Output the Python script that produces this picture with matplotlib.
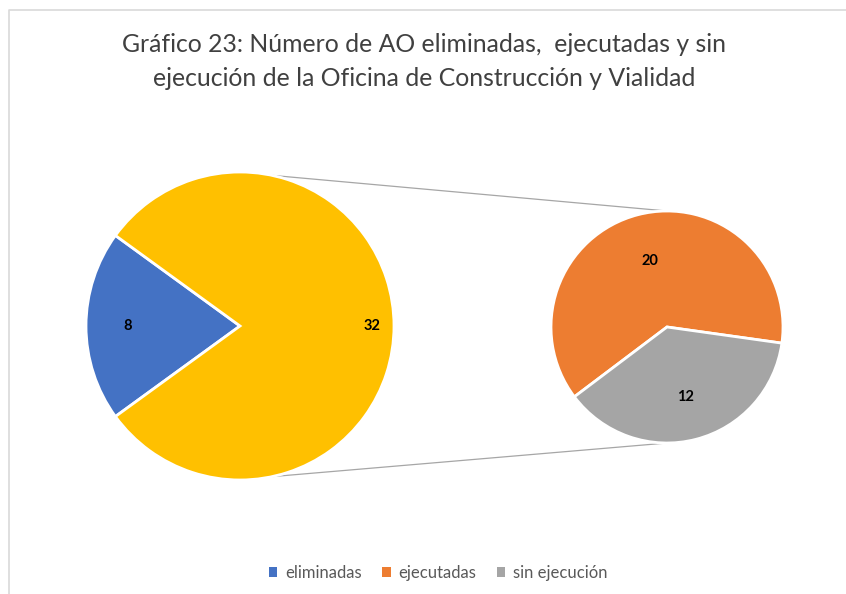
import numpy as np
import matplotlib
matplotlib.use("Agg")
import matplotlib.pyplot as plt
from matplotlib.patches import Patch

# Data
title = "Gráfico 23: Número de AO eliminadas,  ejecutadas y sin\nejecución de la Oficina de Construcción y Vialidad"
main_labels = ["eliminadas", "Otro"]
main_values = [8, 32]
sec_labels = ["ejecutadas", "sin ejecución"]
sec_values = [20, 12]

C_BLUE = "#4472C4"
C_YELLOW = "#FFC000"
C_ORANGE = "#ED7D31"
C_GRAY = "#A5A5A5"

W, H = 846, 594
plt.rcParams["font.family"] = ["Lato", "DejaVu Sans"]
fig = plt.figure(figsize=(W / 100, H / 100), dpi=100)
ax = fig.add_axes([0, 0, 1, 1])

main_c = (240, H - 326)
main_r = 154
sec_c = (667, H - 327)
sec_r = 116

wp = dict(edgecolor="white", linewidth=2)
main_ang = 180 - 360 * main_values[0] / sum(main_values) / 2
sec_ang = -8
ax.pie(main_values, colors=[C_BLUE, C_YELLOW], startangle=main_ang, counterclock=True,
       center=main_c, radius=main_r, wedgeprops=wp, frame=True)
ax.pie(sec_values, colors=[C_ORANGE, C_GRAY], startangle=sec_ang, counterclock=True,
       center=sec_c, radius=sec_r, wedgeprops=wp, frame=True)
ax.set_xlim(0, W)
ax.set_ylim(0, H)
ax.set_aspect("equal")
ax.axis("off")

# chart border (top + left visible)
ax.plot([9, 9, W], [0, H - 9.5, H - 9.5], color="#D9D9D9", lw=1.2, solid_capstyle="butt")

# data labels
def label_at(center, r, start, values, idx, dist, color="black"):
    tot = sum(values)
    a0 = start + 360 * sum(values[:idx]) / tot
    a1 = a0 + 360 * values[idx] / tot
    am = np.deg2rad((a0 + a1) / 2)
    x = center[0] + dist * r * np.cos(am)
    y = center[1] + dist * r * np.sin(am)
    ax.text(x, y, str(values[idx]), ha="center", va="center", fontsize=10.5,
            fontweight="bold", color=color)

label_at(main_c, main_r, main_ang, main_values, 0, 0.73)
label_at(main_c, main_r, main_ang, main_values, 1, 0.86)
label_at(sec_c, sec_r, sec_ang, sec_values, 0, 0.59)
label_at(sec_c, sec_r, sec_ang, sec_values, 1, 0.62)

# connector lines
ang = np.deg2rad(78)
for s in (1, -1):
    x0 = main_c[0] + main_r * np.cos(ang)
    y0 = main_c[1] + s * main_r * np.sin(ang)
    x1 = sec_c[0]
    y1 = sec_c[1] + s * sec_r
    ax.plot([x0, x1], [y0, y1], color="#A6A6A6", lw=0.9, zorder=0)

fig.text(424 / W, 1 - 61.5 / H, title, ha="center", va="center", fontsize=17.8,
         color="#404040", linespacing=1.55)

handles = [Patch(facecolor=C_BLUE), Patch(facecolor=C_ORANGE), Patch(facecolor=C_GRAY)]
leg = fig.legend(handles, [main_labels[0]] + sec_labels, loc="center",
                 bbox_to_anchor=(438 / W, 1 - 573 / H), ncol=3, frameon=False,
                 fontsize=12, handlelength=0.5, handleheight=0.5, handletextpad=0.45,
                 columnspacing=1.25)
for t in leg.get_texts():
    t.set_color("#595959")

fig.savefig("out.png", dpi=100)
